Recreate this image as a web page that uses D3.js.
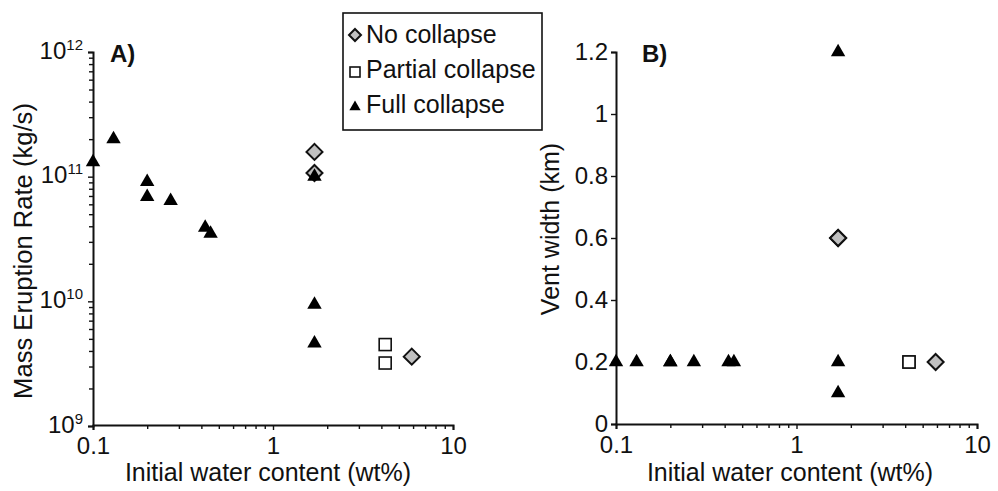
<!DOCTYPE html>
<html>
<head>
<meta charset="utf-8">
<script src="https://cdn.jsdelivr.net/npm/d3@7"></script>
<style>
  html, body { margin: 0; padding: 0; background: #fff; }
  svg { display: block; font-family: "Liberation Sans", Arial, sans-serif; }
</style>
</head>
<body>
<svg id="chart" width="998" height="491"></svg>
<script>
// Initial water content (wt%) for each run, grouped by collapse regime
const fullWater    = [0.1, 0.13, 0.2, 0.2, 0.27, 0.42, 0.45, 1.7, 1.7, 1.7];
const fullMER      = [1.31e11, 2.0e11, 9.1e10, 6.9e10, 6.4e10, 3.9e10, 3.5e10, 1.0e11, 9.4e9, 4.6e9];
const fullVent     = [0.2, 0.2, 0.2, 0.2, 0.2, 0.2, 0.2, 1.2, 0.2, 0.1];

const partialWater = [4.2, 4.2];
const partialMER   = [4.5e9, 3.2e9];
const partialVent  = [0.2, 0.2];

const noWater      = [1.7, 1.7, 5.9];
const noMER        = [1.58e11, 1.07e11, 3.6e9];
const noVent       = [0.6, 0.6, 0.2];

const legendLabels = ["No collapse", "Partial collapse", "Full collapse"];
const xTickValues  = [0.1, 1, 10];
const merTickExps  = [9, 10, 11, 12];
const ventTicks    = [0, 0.2, 0.4, 0.6, 0.8, 1, 1.2];

const svg = d3.select("#chart");
const ink = "#111";
const FONT = "Liberation Sans, Arial, sans-serif";

// Marker drawing helpers
function triangle(g, x, y, area = 90) {
  g.append("path")
    .attr("d", d3.symbol(d3.symbolTriangle, area)())
    .attr("transform", `translate(${x},${y})`)
    .attr("fill", "#000");
}
function diamond(g, x, y, s = 8) {
  g.append("path")
    .attr("d", `M0,${-s}L${s},0L0,${s}L${-s},0Z`)
    .attr("transform", `translate(${x},${y})`)
    .attr("fill", "#c0c0c0").attr("stroke", ink).attr("stroke-width", 2);
}
function square(g, x, y, s = 6) {
  g.append("rect")
    .attr("x", x - s).attr("y", y - s).attr("width", 2 * s).attr("height", 2 * s)
    .attr("fill", "#fff").attr("stroke", ink).attr("stroke-width", 1.6);
}

// Shared log x-axis with minor ticks
function drawXAxis(g, x, y0) {
  const minor = [];
  for (let d = 0.1; d < 10; d *= 10) for (let k = 2; k <= 9; k++) minor.push(+(d * k).toFixed(3));
  g.append("g").attr("transform", `translate(0,${y0})`)
    .call(d3.axisBottom(x).tickValues(minor).tickSize(4).tickFormat(""))
    .call(a => a.select(".domain").remove())
    .call(a => a.selectAll("line").attr("stroke", ink).attr("stroke-width", 1.4));
  g.append("g").attr("transform", `translate(0,${y0})`)
    .call(d3.axisBottom(x).tickValues(xTickValues).tickSize(5).tickPadding(7)
      .tickFormat(d => d3.format("")(d)))
    .call(a => a.select(".domain").attr("stroke", ink).attr("stroke-width", 2))
    .call(a => a.selectAll("line").attr("stroke", ink).attr("stroke-width", 1.4))
    .call(a => a.selectAll("text").attr("font-size", 24).attr("fill", ink)
      .attr("font-family", FONT));
}

// ---------- Panel A: mass eruption rate ----------
const xA = d3.scaleLog().domain([0.1, 10]).range([93, 453]);
const yA = d3.scaleLog().domain([1e9, 1e12]).range([426, 52]);
const gA = svg.append("g");

const merMinor = [];
for (let e = 9; e < 12; e++) for (let k = 2; k <= 9; k++) merMinor.push(k * Math.pow(10, e));
gA.append("g").attr("transform", `translate(93,0)`)
  .call(d3.axisLeft(yA).tickValues(merMinor).tickSize(4).tickFormat(""))
  .call(a => a.select(".domain").remove())
  .call(a => a.selectAll("line").attr("stroke", ink).attr("stroke-width", 1.4));
gA.append("g").attr("transform", `translate(93,0)`)
  .call(d3.axisLeft(yA).tickValues(merTickExps.map(e => Math.pow(10, e))).tickSize(5).tickFormat(""))
  .call(a => a.select(".domain").attr("stroke", ink).attr("stroke-width", 2))
  .call(a => a.selectAll("line").attr("stroke", ink).attr("stroke-width", 1.4))
  .call(a => a.selectAll(".tick").each(function(d, i) {
    const t = d3.select(this).append("text")
      .attr("x", -10).attr("y", 6).attr("text-anchor", "end")
      .attr("fill", ink).attr("font-size", 24).attr("font-family", FONT);
    t.append("tspan").text("10");
    t.append("tspan").attr("dy", -9).attr("font-size", 15).text(String(merTickExps[i]));
  }));
drawXAxis(gA, xA, 425);

gA.append("text").attr("x", 110).attr("y", 62).attr("font-weight", "bold")
  .attr("font-size", 24).attr("fill", ink).text("A)");
gA.append("text").attr("transform", "translate(32,251) rotate(-90)")
  .attr("text-anchor", "middle").attr("font-size", 25.6).attr("fill", ink)
  .text("Mass Eruption Rate (kg/s)");
gA.append("text").attr("x", 268).attr("y", 481).attr("text-anchor", "middle")
  .attr("font-size", 25).attr("fill", ink).text("Initial water content (wt%)");

noWater.forEach((w, i) => diamond(gA, xA(w), yA(noMER[i])));
partialWater.forEach((w, i) => square(gA, xA(w), yA(partialMER[i])));
fullWater.forEach((w, i) => triangle(gA, xA(w), yA(fullMER[i])));

// ---------- Panel B: vent width ----------
const xB = d3.scaleLog().domain([0.1, 10]).range([616, 977]);
const yB = d3.scaleLinear().domain([0, 1.2]).range([424, 52]);
const gB = svg.append("g");

gB.append("g").attr("transform", `translate(616,0)`)
  .call(d3.axisLeft(yB).tickValues(ventTicks).tickSize(5).tickPadding(3)
    .tickFormat(d => d3.format("")(d)))
  .call(a => a.select(".domain").attr("stroke", ink).attr("stroke-width", 2))
  .call(a => a.selectAll("line").attr("stroke", ink).attr("stroke-width", 1.4))
  .call(a => a.selectAll("text").attr("font-size", 24).attr("fill", ink)
    .attr("font-family", FONT));
drawXAxis(gB, xB, 424);

gB.append("text").attr("x", 642).attr("y", 62).attr("font-weight", "bold")
  .attr("font-size", 24).attr("fill", ink).text("B)");
gB.append("text").attr("transform", "translate(559,229) rotate(-90)")
  .attr("text-anchor", "middle").attr("font-size", 25).attr("fill", ink)
  .text("Vent width (km)");
gB.append("text").attr("x", 790).attr("y", 481).attr("text-anchor", "middle")
  .attr("font-size", 25).attr("fill", ink).text("Initial water content (wt%)");

noWater.forEach((w, i) => diamond(gB, xB(w), yB(noVent[i])));
partialWater.forEach((w, i) => square(gB, xB(w), yB(partialVent[i])));
fullWater.forEach((w, i) => triangle(gB, xB(w), yB(fullVent[i])));

// ---------- Legend ----------
const lg = svg.append("g");
lg.append("rect").attr("x", 343).attr("y", 13).attr("width", 199).attr("height", 117)
  .attr("fill", "#fff").attr("stroke", ink).attr("stroke-width", 1.6);
const rowY = [43, 78, 113];
diamond(lg, 355, rowY[0] - 8, 6);
square(lg, 355, rowY[1] - 6, 5);
triangle(lg, 355, rowY[2] - 6, 55);
legendLabels.forEach((t, i) => {
  lg.append("text").attr("x", 366).attr("y", rowY[i])
    .attr("font-size", 25).attr("fill", ink).text(t);
});
</script>
</body>
</html>
